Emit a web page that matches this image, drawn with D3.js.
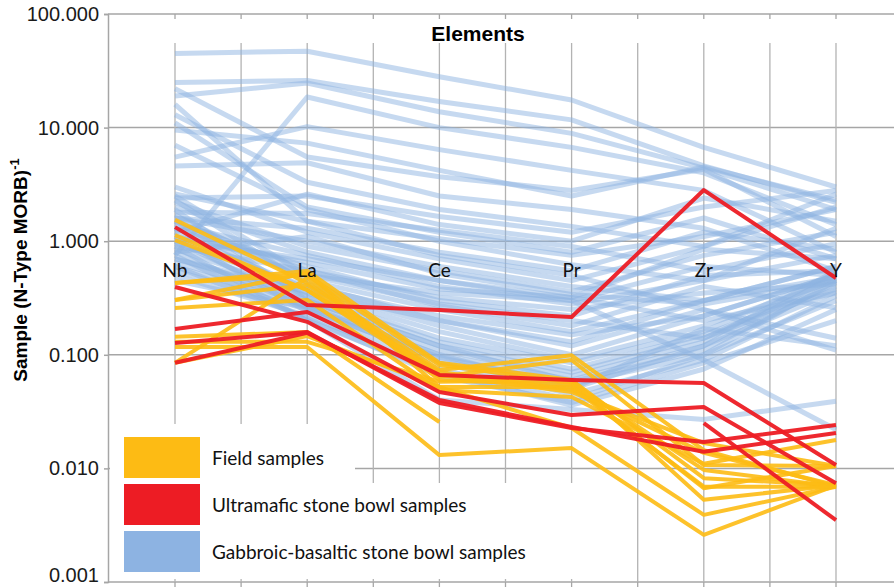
<!DOCTYPE html>
<html>
<head>
<meta charset="utf-8">
<script src="https://cdn.jsdelivr.net/npm/d3@7"></script>
<style>
  body { margin: 0; background: #fff; }
  svg { display: block; }
</style>
</head>
<body>
<svg id="chart" width="894" height="588"></svg>
<script>
// Element order along the x axis
const categories = ["Nb", "La", "Ce", "Pr", "Zr", "Y"];

// Log axis ticks and their printed labels
const yTickValues = [0.001, 0.01, 0.1, 1, 10, 100];
const yTickLabels = ["0.001", "0.010", "0.100", "1.000", "10.000", "100.000"];

// Legend entries
const groupNames = ["Field samples", "Ultramafic stone bowl samples", "Gabbroic-basaltic stone bowl samples"];

// Sample / N-MORB ratios, one row per sample, in category order (null = not measured)
const fieldSamples = [
  [1.54, 0.429, 0.0735, 0.099, 0.0145, 0.0069],
  [1.13, 0.372, 0.064, 0.090, 0.0107, 0.0105],
  [0.429, 0.547, 0.085, 0.060, 0.0082, 0.0071],
  [0.304, 0.525, 0.052, 0.052, 0.0069, 0.0069],
  [0.258, 0.304, 0.049, 0.0425, 0.011, 0.0178],
  [0.144, 0.159, 0.0256, null, null, null],
  [0.117, 0.117, 0.0131, 0.0151, 0.0026, 0.0071],
  [0.085, 0.146, 0.052, 0.0227, 0.0039, 0.0069],
  [0.085, 0.474, 0.060, 0.0543, 0.0067, 0.0105],
  [1.02, 0.372, 0.0706, 0.049, 0.0137, 0.0071],
  [0.429, 0.504, 0.0813, 0.0565, 0.0097, 0.0069],
  [0.304, 0.412, 0.0664, 0.047, 0.0167, 0.0105],
  [0.13, 0.13, 0.058, 0.060, 0.0053, 0.0071]
];

const ultramaficSamples = [
  [1.33, 0.274, 0.248, 0.215, 2.82, 0.474],
  [0.395, 0.195, 0.047, 0.0295, 0.0347, 0.0074],
  [0.169, 0.238, 0.0665, 0.060, 0.0565, 0.0107],
  [0.127, 0.159, 0.0377, 0.0227, 0.0171, 0.0241],
  [0.085, 0.156, 0.040, 0.0232, 0.0140, 0.0205],
  [null, null, null, null, 0.025, 0.0035]
];

const gabbroicSamples = [
  [45, 47, 28, 17.5, 6.7, 3.0],
  [25, 26, 17, 11.7, 4.6, 2.2],
  [19, 24.7, 13.8, 8.9, 4.4, 1.9],
  [22, 5.5, 3.7, 2.8, 4.3, 1.1],
  [0.75, 18.6, 10, 6.7, 4.0, 1.4],
  [9.5, 7.3, 4.2, 2.5, 4.5, 2.3],
  [4.6, 4.9, 2.5, 1.9, 1.3, 0.55],
  [13, 3.3, 1.9, 1.35, 0.9, 2.6],
  [16, 1.5, 0.75, 0.5, 0.25, 0.14],
  [5.5, 10.2, 6.4, 4.2, 2.8, 0.8],
  [2.4, 2.5, 1.65, 1.2, 2.0, 2.8],
  [2.6, 1.5, 1.05, 0.75, 1.1, 1.9],
  [1.8, 1.75, 1.25, 0.9, 0.55, 0.95],
  [11, 2.0, 1.2, 0.8, 1.6, 0.7],
  [7, 1.9, 1.0, 0.62, 0.45, 1.3],
  [1.2, 2.6, 1.4, 1.0, 2.4, 1.5],
  [3.0, 1.2, 0.7, 0.45, 0.9, 2.0],
  [2.2, 0.9, 0.55, 0.36, 0.75, 1.2],
  [1.6, 1.0, 0.6, 0.4, 0.3, 0.6],
  [2.0, 0.8, 0.45, 0.3, 0.6, 0.5],
  [1.4, 0.75, 0.4, 0.28, 0.45, 0.75],
  [1.1, 0.65, 0.38, 0.32, 0.2, 0.35],
  [0.9, 0.55, 0.32, 0.25, 0.35, 0.42],
  [1.3, 0.6, 0.3, 0.22, 0.5, 0.55],
  [0.8, 1.1, 0.52, 0.34, 0.28, 0.45],
  [2.5, 0.5, 0.28, 0.2, 0.14, 0.38],
  [1.7, 0.45, 0.25, 0.16, 0.3, 0.48],
  [0.95, 0.4, 0.22, 0.15, 0.22, 0.5],
  [1.2, 0.38, 0.18, 0.1, 0.22, 0.5],
  [0.85, 0.35, 0.16, 0.09, 0.18, 0.45],
  [0.7, 0.33, 0.14, 0.085, 0.16, 0.52],
  [1.5, 0.32, 0.13, 0.075, 0.15, 0.4],
  [0.65, 0.3, 0.12, 0.07, 0.14, 0.47],
  [1.0, 0.28, 0.11, 0.065, 0.13, 0.55],
  [0.6, 0.27, 0.1, 0.06, 0.12, 0.36],
  [1.9, 0.3, 0.12, 0.058, 0.11, 0.43],
  [0.55, 0.25, 0.095, 0.055, 0.1, 0.3],
  [0.8, 0.26, 0.1, 0.05, 0.12, 0.5],
  [1.1, 0.24, 0.085, 0.045, 0.09, 0.33],
  [0.5, 0.22, 0.075, 0.04, 0.1, 0.45],
  [0.75, 0.2, 0.07, 0.036, 0.075, 0.25],
  [0.9, 0.2, 0.04, 0.033, 0.027, 0.039],
  [0.6, 0.21, 0.065, 0.038, 0.085, 0.2],
  [1.3, 0.5, 0.35, 0.3, 0.09, 0.022],
  [0.45, 0.26, 0.09, 0.05, 0.17, 0.12],
  [2.3, 0.42, 0.2, 0.12, 0.25, 0.11],
  [0.7, 0.36, 0.2, 0.13, 0.3, 0.6],
  [1.5, 0.55, 0.27, 0.18, 0.4, 0.26],
  [1.0, 0.7, 0.45, 0.32, 0.85, 0.7],
  [1.6, 1.3, 0.8, 0.55, 1.2, 0.85]
];

const colors = { field: "#fdbb14", ultra: "#ed1c24", gabbro: "#8db3e2" };

const W = 894, H = 588;
const plotLeft = 108, plotRight = W, plotTop = 14, plotBottom = 582;
const gridTop = 43;

const svg = d3.select("#chart");

const x = d3.scalePoint().domain(categories).range([175, 836]);
const y = d3.scaleLog().domain([0.001, 100]).range([plotBottom, plotTop]);

// vertical grid positions: each element plus midpoints between neighbours
const half = x.step() / 2;
const gridX = [];
categories.forEach((c, i) => {
  gridX.push(x(c));
  if (i < categories.length - 1) gridX.push(x(c) + half);
});

const gridColor = "#a6a6a6";

// horizontal decade lines
svg.append("g").selectAll("line").data(yTickValues).join("line")
  .attr("x1", plotLeft).attr("x2", plotRight)
  .attr("y1", d => y(d)).attr("y2", d => y(d))
  .attr("stroke", gridColor).attr("stroke-width", 1.5);

// vertical grid lines
svg.append("g").selectAll("line").data(gridX).join("line")
  .attr("x1", d => d).attr("x2", d => d)
  .attr("y1", gridTop).attr("y2", plotBottom)
  .attr("stroke", "#b3b3b3").attr("stroke-width", 1.3);

// small tick marks on the top and bottom frame lines
svg.append("g").selectAll("line").data(gridX).join("line")
  .attr("x1", d => d).attr("x2", d => d)
  .attr("y1", plotTop).attr("y2", plotTop + 5)
  .attr("stroke", gridColor).attr("stroke-width", 1.3);
svg.append("g").selectAll("line").data(gridX).join("line")
  .attr("x1", d => d).attr("x2", d => d)
  .attr("y1", plotBottom).attr("y2", plotBottom + 5)
  .attr("stroke", gridColor).attr("stroke-width", 1.3);

// left value axis
const yAxis = d3.axisLeft(y)
  .tickValues(yTickValues)
  .tickFormat((d, i) => yTickLabels[i])
  .tickSize(4).tickPadding(5);
const gy = svg.append("g").attr("transform", `translate(${plotLeft},0)`).call(yAxis);
gy.select(".domain").attr("stroke", gridColor).attr("stroke-width", 1.5);
gy.selectAll(".tick line").attr("stroke", gridColor).attr("stroke-width", 1.5);
gy.selectAll(".tick text")
  .attr("fill", "#1a1a1a")
  .style("font-family", "'Liberation Sans', Arial, sans-serif")
  .style("font-size", "20px");
// lift the bottom label so it stays inside the canvas
gy.selectAll(".tick text").filter(d => d === 0.001).attr("dy", "-0.05em");

// sample lines
const line = d3.line()
  .defined(d => d != null)
  .x((d, i) => x(categories[i]))
  .y(d => y(d));

function drawGroup(rows, color, width, opacity) {
  svg.append("g").selectAll("path").data(rows).join("path")
    .attr("d", line)
    .attr("fill", "none")
    .attr("stroke", color)
    .attr("stroke-width", width)
    .attr("stroke-opacity", opacity)
    .attr("stroke-linejoin", "round");
}
drawGroup(gabbroicSamples, colors.gabbro, 5, 0.5);
drawGroup(fieldSamples, colors.field, 4, 0.9);
drawGroup(ultramaficSamples, colors.ultra, 4, 0.95);

// element names inside the plot
svg.append("g").selectAll("text").data(categories).join("text")
  .attr("x", d => x(d)).attr("y", 277)
  .attr("text-anchor", "middle")
  .attr("fill", "#111")
  .style("font-family", "Lato, 'Open Sans', sans-serif")
  .style("font-size", "19px")
  .text(d => d);

// title
svg.append("text")
  .attr("x", 478).attr("y", 41)
  .attr("text-anchor", "middle")
  .attr("fill", "#000")
  .style("font-family", "'Liberation Sans', Arial, sans-serif")
  .style("font-weight", "bold")
  .style("font-size", "21px")
  .text("Elements");

// y axis title with superscript
const yTitle = svg.append("text")
  .attr("transform", "translate(27,270) rotate(-90)")
  .attr("text-anchor", "middle")
  .attr("fill", "#000")
  .style("font-family", "'Liberation Sans', Arial, sans-serif")
  .style("font-weight", "bold")
  .style("font-size", "19px");
yTitle.append("tspan").text("Sample (N-Type MORB)");
yTitle.append("tspan").attr("dy", -8).style("font-size", "13px").text("-1");

// legend panel
const legend = svg.append("g");
legend.append("rect").attr("x", 110).attr("y", 424).attr("width", 245).attr("height", 60).attr("fill", "#fff");
legend.append("rect").attr("x", 110).attr("y", 483).attr("width", 490).attr("height", 96).attr("fill", "#fff");
const legendColors = [colors.field, colors.ultra, colors.gabbro];
groupNames.forEach((name, i) => {
  const top = 437 + i * 47;
  legend.append("rect")
    .attr("x", 124).attr("y", top).attr("width", 76).attr("height", 41)
    .attr("fill", legendColors[i]);
  legend.append("text")
    .attr("x", 212).attr("y", top + 28)
    .attr("fill", "#111")
    .style("font-family", "Lato, 'Open Sans', sans-serif")
    .style("font-size", "19px")
    .text(name);
});
</script>
</body>
</html>
